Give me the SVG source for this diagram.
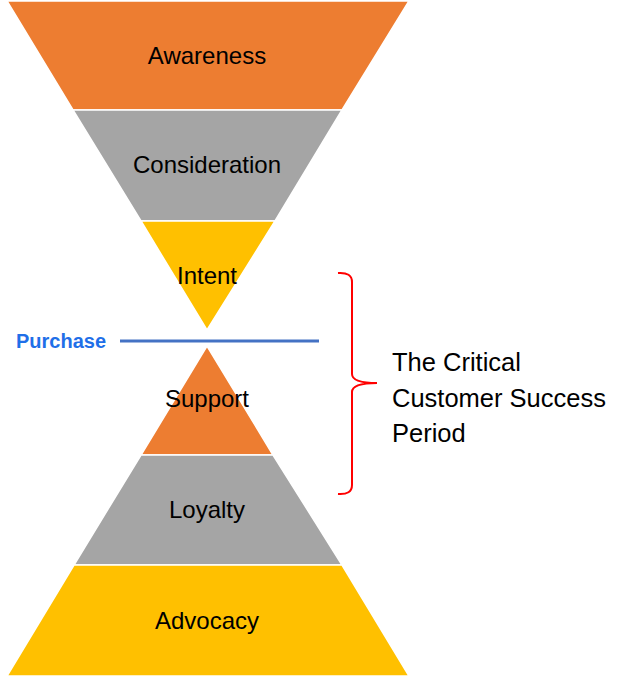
<svg xmlns="http://www.w3.org/2000/svg" width="638" height="677" viewBox="0 0 638 677">
<style>
.band{stroke:#ffffff;stroke-width:1.5;stroke-linejoin:miter}
.orange{fill:#ED7D31}
.gray{fill:#A5A5A5}
.yellow{fill:#FFC000}
.lbl{font-family:"Liberation Sans",Arial,sans-serif;font-size:24px;fill:#000000;text-anchor:middle}
.side{font-family:"Liberation Sans",Arial,sans-serif;font-size:25.5px;fill:#000000}
</style>
<rect width="638" height="677" fill="#ffffff"/>
<g id="awareness">
<polygon class="band orange" points="7,1 409,1 342,110 73,110"/>
<text class="lbl" x="207" y="64">Awareness</text>
</g>
<g id="consideration">
<polygon class="band gray" points="73,110 342,110 275,221 141,221"/>
<text class="lbl" x="207" y="173">Consideration</text>
</g>
<g id="intent">
<polygon class="band yellow" points="141,221 275,221 207,330"/>
<text class="lbl" x="207" y="284">Intent</text>
</g>
<g id="support">
<polygon class="band orange" points="207,346 273,455 141,455"/>
<text class="lbl" x="207" y="407">Support</text>
</g>
<g id="loyalty">
<polygon class="band gray" points="141,455 273,455 342,565 74,565"/>
<text class="lbl" x="207" y="518">Loyalty</text>
</g>
<g id="advocacy">
<polygon class="band yellow" points="74,565 342,565 409,676 7,676"/>
<text class="lbl" x="207" y="629">Advocacy</text>
</g>
<g id="purchase">
<text x="16" y="348" font-family="Liberation Sans,Arial,sans-serif" font-size="20" font-weight="bold" fill="#1F6FE8">Purchase</text>
</g>
<g id="connectors">
<line x1="120" y1="341" x2="319" y2="341" stroke="#4472C4" stroke-width="3"/>
<path d="M338,273 Q352,272 352,282 L352,374 Q352,383 377,383 Q352,383 352,392 L352,485 Q352,495 338,494" fill="none" stroke="#FF0000" stroke-width="2"/>
</g>
<g id="critical-period">
<text class="side" x="392" y="371">The Critical</text>
<text class="side" x="392" y="407">Customer Success</text>
<text class="side" x="392" y="442">Period</text>
</g>
</svg>
